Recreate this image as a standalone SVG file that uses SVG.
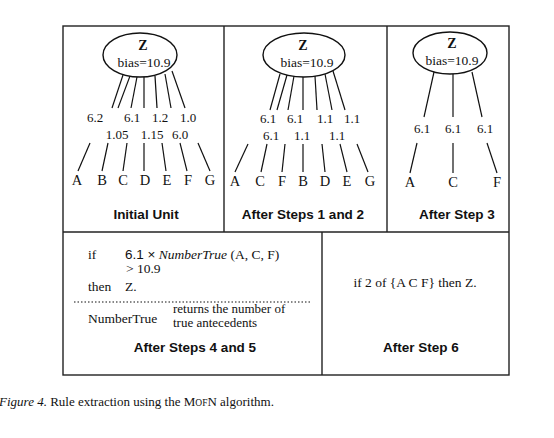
<svg xmlns="http://www.w3.org/2000/svg" width="554" height="438" viewBox="0 0 554 438">
<style>
.frame{fill:none;stroke:#222;stroke-width:1.4}
.node{fill:#fff;stroke:#111;stroke-width:1.4}
.ln{stroke:#111;stroke-width:1.2;fill:none}
.s{font-family:"Liberation Serif",serif;fill:#111}
.z{font-family:"Liberation Serif",serif;font-weight:bold;font-size:14px;fill:#111;text-anchor:middle}
.b{font-family:"Liberation Serif",serif;font-size:13.5px;fill:#111;text-anchor:middle}
.w{font-family:"Liberation Serif",serif;font-size:13px;fill:#111;text-anchor:middle}
.l{font-family:"Liberation Serif",serif;font-size:14.5px;fill:#111;text-anchor:middle}
.t{font-family:"Liberation Sans",Arial,sans-serif;font-weight:bold;font-size:13.5px;fill:#111;text-anchor:middle}
</style>
<rect width="554" height="438" fill="#fff"/>
<g id="frames">
<rect class="frame" x="63" y="26" width="446" height="349"/>
<line class="frame" x1="63" y1="232" x2="509" y2="232"/>
<line class="frame" x1="224" y1="26" x2="224" y2="232"/>
<line class="frame" x1="387" y1="26" x2="387" y2="232"/>
<line class="frame" x1="322" y1="232" x2="322" y2="375"/>
</g>
<g id="connectors">
<line class="ln" x1="123" y1="75" x2="112" y2="108"/>
<line class="ln" x1="130" y1="76" x2="118" y2="108"/>
<line class="ln" x1="137" y1="77" x2="131" y2="108"/>
<line class="ln" x1="144" y1="77" x2="144" y2="108"/>
<line class="ln" x1="155" y1="76" x2="157" y2="108"/>
<line class="ln" x1="165" y1="74" x2="171" y2="108"/>
<line class="ln" x1="172" y1="71" x2="185" y2="108"/>
<line class="ln" x1="90" y1="143" x2="78" y2="171"/>
<line class="ln" x1="108" y1="143" x2="102" y2="171"/>
<line class="ln" x1="127" y1="143" x2="123" y2="171"/>
<line class="ln" x1="144" y1="143" x2="144" y2="171"/>
<line class="ln" x1="162" y1="143" x2="166" y2="171"/>
<line class="ln" x1="180" y1="143" x2="187" y2="171"/>
<line class="ln" x1="198" y1="143" x2="210" y2="171"/>
<line class="ln" x1="280" y1="74" x2="270" y2="110"/>
<line class="ln" x1="287" y1="75" x2="277" y2="110"/>
<line class="ln" x1="294" y1="76" x2="288" y2="110"/>
<line class="ln" x1="303" y1="77" x2="303" y2="110"/>
<line class="ln" x1="315" y1="76" x2="317" y2="110"/>
<line class="ln" x1="325" y1="74" x2="332" y2="110"/>
<line class="ln" x1="333" y1="71" x2="345" y2="110"/>
<line class="ln" x1="248" y1="144" x2="235" y2="172"/>
<line class="ln" x1="267" y1="144" x2="261" y2="172"/>
<line class="ln" x1="285" y1="144" x2="282" y2="172"/>
<line class="ln" x1="303" y1="144" x2="303" y2="172"/>
<line class="ln" x1="322" y1="144" x2="325" y2="172"/>
<line class="ln" x1="340" y1="144" x2="347" y2="172"/>
<line class="ln" x1="357" y1="144" x2="368" y2="172"/>
<line class="ln" x1="434" y1="72" x2="424" y2="117"/>
<line class="ln" x1="417" y1="143" x2="410" y2="173"/>
<line class="ln" x1="453" y1="74" x2="453" y2="117"/>
<line class="ln" x1="453" y1="143" x2="453" y2="173"/>
<line class="ln" x1="472" y1="72" x2="482" y2="117"/>
<line class="ln" x1="487" y1="143" x2="497" y2="173"/>
</g>
<g id="z1">
<ellipse class="node" cx="140" cy="55" rx="37" ry="22"/>
<text class="z" x="143" y="50">Z</text>
<text class="b" x="144" y="67">bias=10.9</text>
</g>
<g id="z2">
<ellipse class="node" cx="304" cy="55" rx="41" ry="22"/>
<text class="z" x="303" y="50">Z</text>
<text class="b" x="307" y="67">bias=10.9</text>
</g>
<g id="z3">
<ellipse class="node" cx="450" cy="53" rx="37" ry="21"/>
<text class="z" x="452" y="48">Z</text>
<text class="b" x="452" y="65">bias=10.9</text>
</g>
<g id="weights">
<text class="w" x="95" y="122">6.2</text>
<text class="w" x="132" y="122">6.1</text>
<text class="w" x="160" y="122">1.2</text>
<text class="w" x="188" y="122">1.0</text>
<text class="w" x="117" y="139">1.05</text>
<text class="w" x="152" y="139">1.15</text>
<text class="w" x="180" y="139">6.0</text>
<text class="w" x="268" y="123">6.1</text>
<text class="w" x="295" y="123">6.1</text>
<text class="w" x="325" y="123">1.1</text>
<text class="w" x="352" y="123">1.1</text>
<text class="w" x="271" y="140">6.1</text>
<text class="w" x="302" y="140">1.1</text>
<text class="w" x="337" y="140">1.1</text>
<text class="w" x="422" y="133">6.1</text>
<text class="w" x="453" y="133">6.1</text>
<text class="w" x="485" y="133">6.1</text>
</g>
<g id="leaves1">
<text class="l" x="77" y="185">A</text>
<text class="l" x="102" y="185">B</text>
<text class="l" x="123" y="185">C</text>
<text class="l" x="145" y="185">D</text>
<text class="l" x="167" y="185">E</text>
<text class="l" x="188" y="185">F</text>
<text class="l" x="210" y="185">G</text>
</g>
<g id="leaves2">
<text class="l" x="235" y="186">A</text>
<text class="l" x="260" y="186">C</text>
<text class="l" x="282" y="186">F</text>
<text class="l" x="303" y="186">B</text>
<text class="l" x="325" y="186">D</text>
<text class="l" x="347" y="186">E</text>
<text class="l" x="370" y="186">G</text>
</g>
<g id="leaves3">
<text class="l" x="410" y="187">A</text>
<text class="l" x="453" y="187">C</text>
<text class="l" x="497" y="187">F</text>
</g>
<g id="titles">
<text class="t" x="146" y="219">Initial Unit</text>
<text class="t" x="303" y="219">After Steps 1 and 2</text>
<text class="t" x="457" y="219">After Step 3</text>
<text class="t" x="195" y="352">After Steps 4 and 5</text>
<text class="t" x="421" y="352">After Step 6</text>
</g>
<g id="rule45" class="s" font-size="13.5">
<text x="88" y="259">if</text>
<text x="125" y="259"><tspan font-family="Liberation Sans, Arial, sans-serif">6.1 ×</tspan> <tspan font-style="italic">NumberTrue</tspan> (A, C, F)</text>
<text x="126" y="273">&gt; 10.9</text>
<text x="88" y="291">then</text>
<text x="125" y="291">Z.</text>
<line x1="74" y1="302" x2="311" y2="302" stroke="#111" stroke-width="1.2" stroke-dasharray="1.5,2"/>
<text x="88" y="323">NumberTrue</text>
<text x="173" y="313" font-size="13">returns the number of</text>
<text x="173" y="327" font-size="13">true antecedents</text>
</g>
<g id="rule6">
<text class="b" x="415" y="287">if 2 of {A C F} then Z.</text>
</g>
<text class="s" x="-1" y="406" font-size="13"><tspan font-style="italic">Figure 4.</tspan> Rule extraction using the M<tspan font-size="9.5">OF</tspan>N algorithm.</text>
</svg>
